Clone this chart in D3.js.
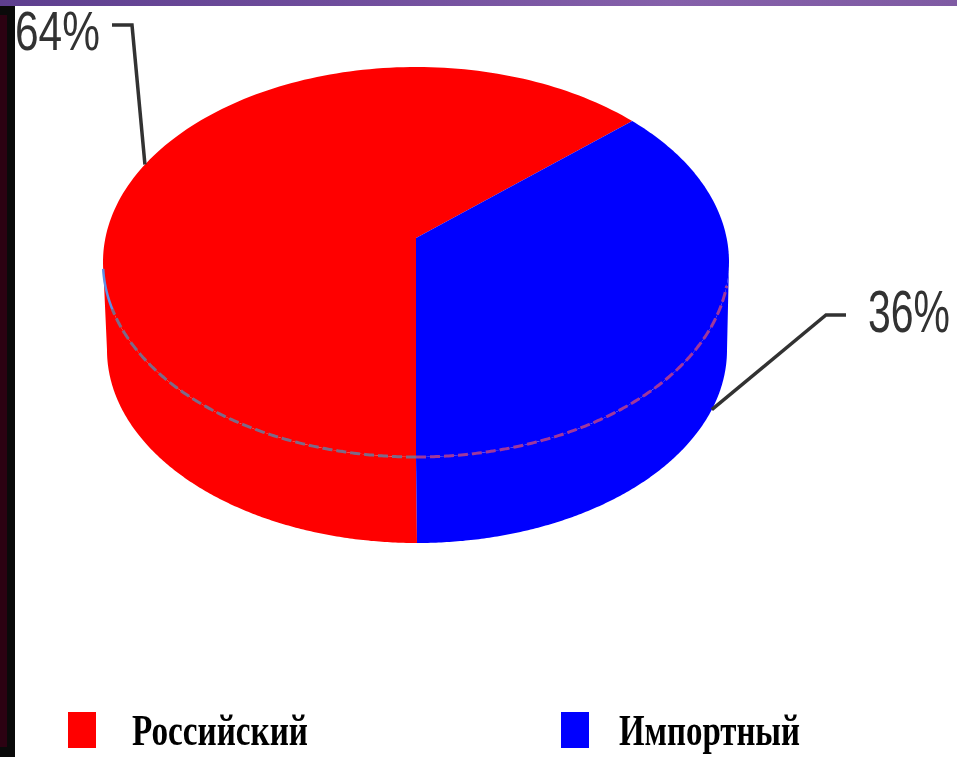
<!DOCTYPE html>
<html><head><meta charset="utf-8">
<script src="https://cdnjs.cloudflare.com/ajax/libs/d3/7.8.5/d3.min.js"></script>
<style>html,body{margin:0;padding:0;background:#fff;overflow:hidden}svg{display:block}</style>
</head><body><svg id="c" width="957" height="757"></svg>
<script>
const categories = ["Российский", "Импортный"];
const values = [64, 36];
const valueLabels = ["64%", "36%"];
const colors = ["#ff0000", "#0000ff"];
const seamColors = ["#7c6a88", "#a0389a"];

const svg = d3.select("#c");
const defs = svg.append("defs");
defs.append("filter").attr("id","soft").append("feGaussianBlur").attr("stdDeviation",0.6);
defs.append("filter").attr("id","edge").append("feGaussianBlur").attr("stdDeviation",0.6);
const band = defs.append("linearGradient").attr("id","band");
[["0%","#5e3f8f"],["35%","#6f4d9c"],["70%","#8560aa"],["100%","#7f5ba3"]].forEach(s=>band.append("stop").attr("offset",s[0]).attr("stop-color",s[1]));

// page frame
svg.append("rect").attr("width",957).attr("height",757).attr("fill","#fff");
svg.append("rect").attr("width",15).attr("height",757).attr("fill","#0a0a0a");
svg.append("rect").attr("y",15).attr("width",7).attr("height",732).attr("fill","#2c0212");
svg.append("rect").attr("width",957).attr("height",6).attr("fill","url(#band)");

// scales: unit ellipse to picture
const xTop = d3.scaleLinear().domain([-1,1]).range([103,729]);
const yTop = d3.scaleLinear().domain([-1,1]).range([67,457]);
const xBot = d3.scaleLinear().domain([-1,1]).range([107,727]);
const yBot = d3.scaleLinear().domain([-1,1]).range([157,543]);
const apex = [xTop(0), d3.scaleLinear().domain([-1,1]).range([67,409])(0)];

// pie angles, warped by the picture's perspective
const pie = d3.pie().sort(null).startAngle(Math.PI).endAngle(3*Math.PI);
const arcs = pie(values);
const tilt = d3.scaleLinear()
  .domain([Math.PI, arcs[0].endAngle, 3*Math.PI])
  .range([Math.PI, 2*Math.PI + 43.7*Math.PI/180, 3*Math.PI]);

const pt = (a,xs,ys)=>[xs(Math.sin(a)), ys(-Math.cos(a))];
const sweep = (a,b,xs,ys)=>{const n=180;return d3.range(n+1).map(i=>pt(a+(b-a)*i/n,xs,ys));};
const line = d3.line();
const deg = d=>d*Math.PI/180;

const chart = svg.append("g").attr("filter","url(#edge)");
// side wall
const wallSpan = [[Math.PI, 3*Math.PI/2],[Math.PI/2, Math.PI]];
wallSpan.forEach((s,i)=>{
  const p = sweep(s[0],s[1],xTop,yTop).concat(sweep(s[1],s[0],xBot,yBot));
  chart.append("path").attr("d",line(p)+"Z").attr("fill",colors[i]);
});
// top wedges
arcs.forEach((d,i)=>{
  const a = tilt(d.startAngle), b = tilt(d.endAngle);
  const p = [apex].concat(sweep(a,b,xTop,yTop));
  chart.append("path").attr("d",line(p)+"Z").attr("fill",colors[i]);
});
// seam along the rim
[[deg(180),deg(256)],[deg(180),deg(97)]].forEach((s,i)=>{
  chart.append("path").attr("d",line(sweep(s[0],s[1],xTop,yTop)))
    .attr("fill","none").attr("stroke",seamColors[i]).attr("stroke-width",3).attr("stroke-dasharray","10 4");
});
chart.append("path").attr("d",line(sweep(deg(256),deg(268),xTop,yTop)))
  .attr("fill","none").attr("stroke","#5f8fe6").attr("stroke-width",2.5);

// leader lines
const leaders = [
  [deg(300), xTop, yTop, [[132,25],[112,25]]],
  [deg(108), xBot, yBot, [[826,315],[846,315]]]
];
const leaderG = svg.append("g").attr("filter","url(#soft)");
leaders.forEach(l=>{
  leaderG.append("path").attr("d",line([pt(l[0],l[1],l[2])].concat(l[3]))).attr("fill","none").attr("stroke","#333").attr("stroke-width",3.5);
});

// value labels
const soft = svg.append("g").attr("filter","url(#soft)");
[[15,50,85,44,1.25],[868,332,82,44,1.33]].forEach((t,i)=>{
  const el = soft.append("text").attr("font-family","Liberation Sans").attr("font-size",t[3]).attr("fill","#333").text(valueLabels[i]);
  const sx = t[2]/el.node().getComputedTextLength();
  el.attr("transform",`translate(${t[0]},${t[1]}) scale(${sx},${t[4]})`);
});

// legend
const legendX = d3.scaleOrdinal().domain(categories).range([68,561]);
const legendTextX = d3.scaleOrdinal().domain(categories).range([132,619]);
const legendW = d3.scaleOrdinal().domain(categories).range([176,181]);
categories.forEach((c,i)=>{
  soft.append("rect").attr("x",legendX(c)).attr("y",712).attr("width",28).attr("height",36).attr("fill",colors[i]);
  soft.append("text").attr("x",legendTextX(c)).attr("y",745).attr("textLength",legendW(c)).attr("lengthAdjust","spacingAndGlyphs")
    .attr("font-family","Liberation Serif").attr("font-weight","bold").attr("font-size",44).attr("fill","#000").text(c);
});
</script></body></html>
